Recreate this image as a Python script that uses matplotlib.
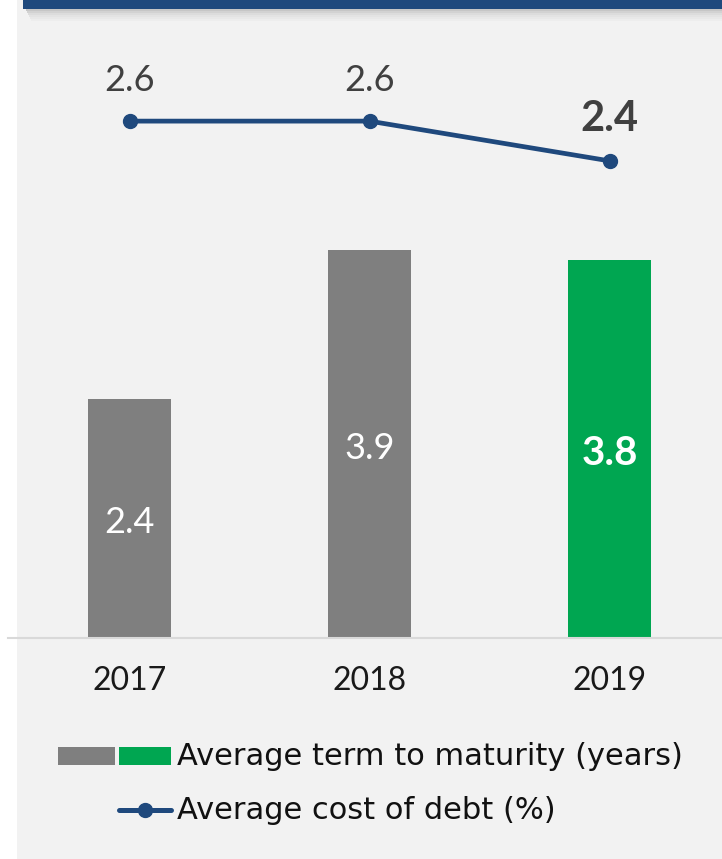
import matplotlib
matplotlib.use("Agg")
import matplotlib.pyplot as plt
from matplotlib.patches import Rectangle
from matplotlib.lines import Line2D

plt.rcParams['font.family'] = ['Lato', 'DejaVu Sans']

years = ["2017", "2018", "2019"]
term_to_maturity = [2.4, 3.9, 3.8]
cost_of_debt = [2.6, 2.6, 2.4]
bar_colors = ["#7f7f7f", "#7f7f7f", "#00a651"]
bar_label_bold = [False, False, True]
line_label_bold = [False, False, True]
legend_labels = ["Average term to maturity (years)", "Average cost of debt (%)"]

W, H = 722, 859
DPI = 100
fig = plt.figure(figsize=(W / DPI, H / DPI), dpi=DPI)
fig.patch.set_facecolor("white")

def fx(px):
    return px / W

def fy(py):
    return 1 - py / H

# gray panel
fig.add_artist(Rectangle((fx(17), 0), 1 - fx(17), 1, transform=fig.transFigure,
                         facecolor="#f2f2f2", edgecolor="none", zorder=0))
# header shadow
for i, a in enumerate([0.18, 0.13, 0.09, 0.06, 0.04, 0.02]):
    fig.add_artist(Rectangle((fx(26 + i), fy(11 + 2 * i)), 1 - fx(26 + i), (2) / H,
                             transform=fig.transFigure, facecolor="black", alpha=a,
                             edgecolor="none", zorder=1))
# header bar
fig.add_artist(Rectangle((fx(23), fy(9)), 1 - fx(23), 9 / H, transform=fig.transFigure,
                         facecolor="#1f497d", edgecolor="none", zorder=2))

# axes
base_px = 638
top_px = 10
ax = fig.add_axes([fx(8), fy(base_px), fx(722) - fx(8), (base_px - top_px) / H])
ax.patch.set_alpha(0)
x = list(range(len(years)))
ax.set_xlim((8 - 129.5) / 240, (722 - 129.5) / 240)
ax.set_ylim(0, (base_px - top_px) / 99.5)
for s in ["top", "right", "left"]:
    ax.spines[s].set_visible(False)
ax.spines["bottom"].set_color("#d9d9d9")
ax.spines["bottom"].set_linewidth(1.5)
ax.set_yticks([])
ax.set_xticks(x)
ax.set_xticklabels(years, fontsize=23, color="#1a1a1a")
ax.tick_params(axis="x", length=0, pad=20)

bars = ax.bar(x, term_to_maturity, width=0.348, color=bar_colors, zorder=2)
for b, v, bold in zip(bars, term_to_maturity, bar_label_bold):
    ax.annotate(f"{v:.1f}", (b.get_x() + b.get_width() / 2, v / 2), xytext=(0, -3),
                textcoords="offset points", ha="center", va="center",
                color="white", fontsize=29 if bold else 26,
                fontweight="bold" if bold else "normal", zorder=3)

ax2 = ax.twinx()
ax2.set_ylim(0, (base_px - top_px) / 198.8)
ax2.axis("off")
ax2.plot(x, cost_of_debt, color="#1f497d", lw=3.4, marker="o", markersize=10,
         solid_capstyle="round", zorder=4)
for xi, v, bold in zip(x, cost_of_debt, line_label_bold):
    ax2.annotate(f"{v:.1f}", (xi, v), xytext=(0, 30 if bold else 29),
                 textcoords="offset points", ha="center", va="center",
                 color="#404040", fontsize=30 if bold else 26,
                 fontweight="bold" if bold else "normal")

# legend (manual)
fig.add_artist(Rectangle((fx(58), fy(765)), fx(115) - fx(58), 18 / H, transform=fig.transFigure,
                         facecolor=bar_colors[0], edgecolor="none"))
fig.add_artist(Rectangle((fx(119), fy(765)), fx(171) - fx(119), 18 / H, transform=fig.transFigure,
                         facecolor=bar_colors[2], edgecolor="none"))
fig.add_artist(Line2D([fx(119), fx(171)], [fy(810), fy(810)], transform=fig.transFigure,
                      color="#1f497d", lw=3.6, solid_capstyle="round"))
fig.add_artist(Line2D([fx(145)], [fy(810)], transform=fig.transFigure, color="#1f497d",
                      marker="o", markersize=10, lw=0))
for label, yb in zip(legend_labels, [765, 819]):
    fig.text(fx(177), fy(yb), label, fontsize=22, color="#111111", ha="left",
             va="baseline", family="DejaVu Sans")

fig.savefig("out.png", dpi=DPI)
